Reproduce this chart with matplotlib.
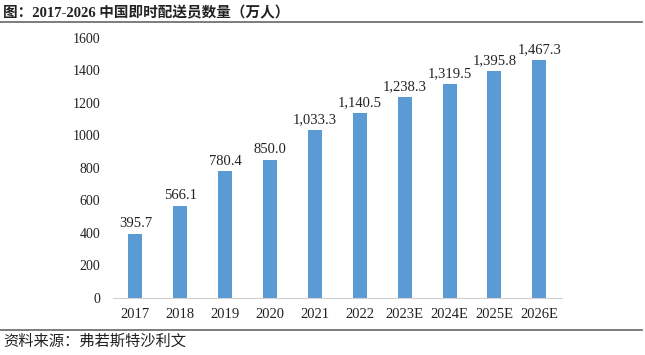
import matplotlib.pyplot as plt
from matplotlib.lines import Line2D

# data
years = ['2017', '2018', '2019', '2020', '2021', '2022', '2023E', '2024E', '2025E', '2026E']
riders = [395.7, 566.1, 780.4, 850.0, 1033.3, 1140.5, 1238.3, 1319.5, 1395.8, 1467.3]
yticks = [0, 200, 400, 600, 800, 1000, 1200, 1400, 1600]

fonts = ['Liberation Serif', 'Noto Sans CJK SC']
plt.rcParams['font.family'] = fonts

fig = plt.figure(figsize=(6.45, 3.55), dpi=100)
ax = fig.add_axes([0.175, 0.1606, 0.696, 0.7324])

x = range(len(years))
bars = ax.bar(x, riders, width=0.31, color='#5B9BD5')
for xi, v in zip(x, riders):
    ax.text(xi, v + 22, f'{v:,.1f}', ha='center', va='bottom', fontsize=10.5, color='#222222')

ax.set_xlim(-0.5, len(years) - 0.5)
ax.set_ylim(0, 1600)
ax.set_yticks(yticks)
ax.set_xticks(list(x))
ax.set_xticklabels(years)
ax.tick_params(axis='both', length=0, labelsize=10, colors='#222222')
ax.tick_params(axis='x', labelsize=10.5, pad=7)
ax.tick_params(axis='y', pad=9)
for s in ['top', 'right', 'left']:
    ax.spines[s].set_visible(False)
ax.spines['bottom'].set_color('#d0d0d0')

# title and source with rules
fig.text(0.005, 1 - 13 / 355, '图：2017-2026 中国即时配送员数量（万人）', fontsize=10.5,
         fontweight='bold', va='center', ha='left', color='#222222')
fig.add_artist(Line2D([0, 0.995], [1 - 22 / 355] * 2, color='#666666', lw=1.2))
fig.add_artist(Line2D([0, 0.995], [1 - 330 / 355] * 2, color='#666666', lw=1.2))
fig.text(0.005, 1 - 342 / 355, '资料来源：弗若斯特沙利文', fontsize=11,
         va='center', ha='left', color='#222222')

fig.savefig('out.png', dpi=100)
